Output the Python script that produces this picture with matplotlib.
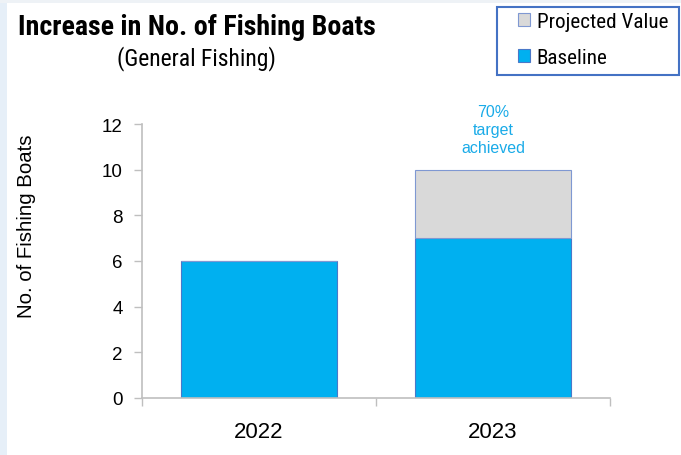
import matplotlib.pyplot as plt
from matplotlib.patches import Rectangle

# data for the two years
years = ["2022", "2023"]
baseline = [6, 7]
projected = [0, 3]
target_note = "70%\ntarget\nachieved"

plt.rcParams["font.family"] = ["Liberation Sans", "DejaVu Sans"]
narrow = ["Roboto Condensed", "DejaVu Sans"]

W, H = 681, 456
fig = plt.figure(figsize=(W / 100, H / 100), dpi=100)
fig.patch.set_facecolor("white")

# pale strip down the left edge and a thin line along the top
fig.add_artist(Rectangle((0, 0), 0.011, 1, transform=fig.transFigure,
                         facecolor="#e6eff8", edgecolor="none", zorder=0))
fig.add_artist(Rectangle((0, 0.992), 1, 0.008, transform=fig.transFigure,
                         facecolor="#eef2f6", edgecolor="none", zorder=0))

ax = fig.add_axes([142 / W, 1 - 399 / H, 468 / W, 274 / H])

x = range(len(years))
ax.bar(x, baseline, width=0.667, color="#00b0f0", edgecolor="#4a78c8",
       linewidth=0.8, label="Baseline", zorder=2)
ax.bar(x, projected, width=0.667, bottom=baseline, color="#d9d9d9",
       edgecolor="#7f98d2", linewidth=0.8, label="Projected Value", zorder=2)

ax.set_xlim(-0.5, 1.5)
ax.set_ylim(0, 12)
ax.set_yticks(range(0, 13, 2))
ax.tick_params(axis="y", labelsize=13.5, length=6, width=1, color="#bfbfbf",
               pad=8)
ax.set_xticks([-0.5, 0.5, 1.5])
ax.set_xticklabels([])
ax.tick_params(axis="x", length=6, width=1, color="#bfbfbf")
for i, yr in enumerate(years):
    ax.text(i, -1.45, yr, ha="center", va="center", fontsize=16)

for side in ["top", "right"]:
    ax.spines[side].set_visible(False)
for side in ["left", "bottom"]:
    ax.spines[side].set_color("#bfbfbf")
    ax.spines[side].set_linewidth(1.2)

fig.text(27 / W, 1 - 226 / H, "No. of Fishing Boats", fontsize=14.7,
         rotation=90, ha="center", va="center")

total = baseline[1] + projected[1]
ax.text(1, total + 1.75, target_note, ha="center", va="center", fontsize=11.5,
        color="#1aabe8", linespacing=1.25)

fig.text(18 / W, 1 - 35 / H, "Increase in No. of Fishing Boats",
         fontsize=20.2, fontweight="bold", family=narrow, va="baseline")
fig.text(196 / W, 1 - 65 / H, "(General Fishing)", fontsize=17,
         family=narrow, ha="center", va="baseline")

# legend box drawn separately so the entries can sit further in
fig.add_artist(Rectangle((497 / W, 1 - 76 / H), 182 / W, 68 / H,
                         transform=fig.transFigure, facecolor="white",
                         edgecolor="#4472c4", linewidth=1.5, zorder=3))
handles, labels = ax.get_legend_handles_labels()
leg = fig.legend(handles[::-1], labels[::-1], loc="upper left",
                 bbox_to_anchor=(518 / W, 1 - 13 / H), frameon=False,
                 handlelength=0.58, handleheight=0.58, handletextpad=0.3,
                 labelspacing=0.8, borderpad=0, borderaxespad=0,
                 prop={"family": narrow, "size": 15.2})
leg.set_zorder(4)

fig.savefig("out.png", dpi=100)
